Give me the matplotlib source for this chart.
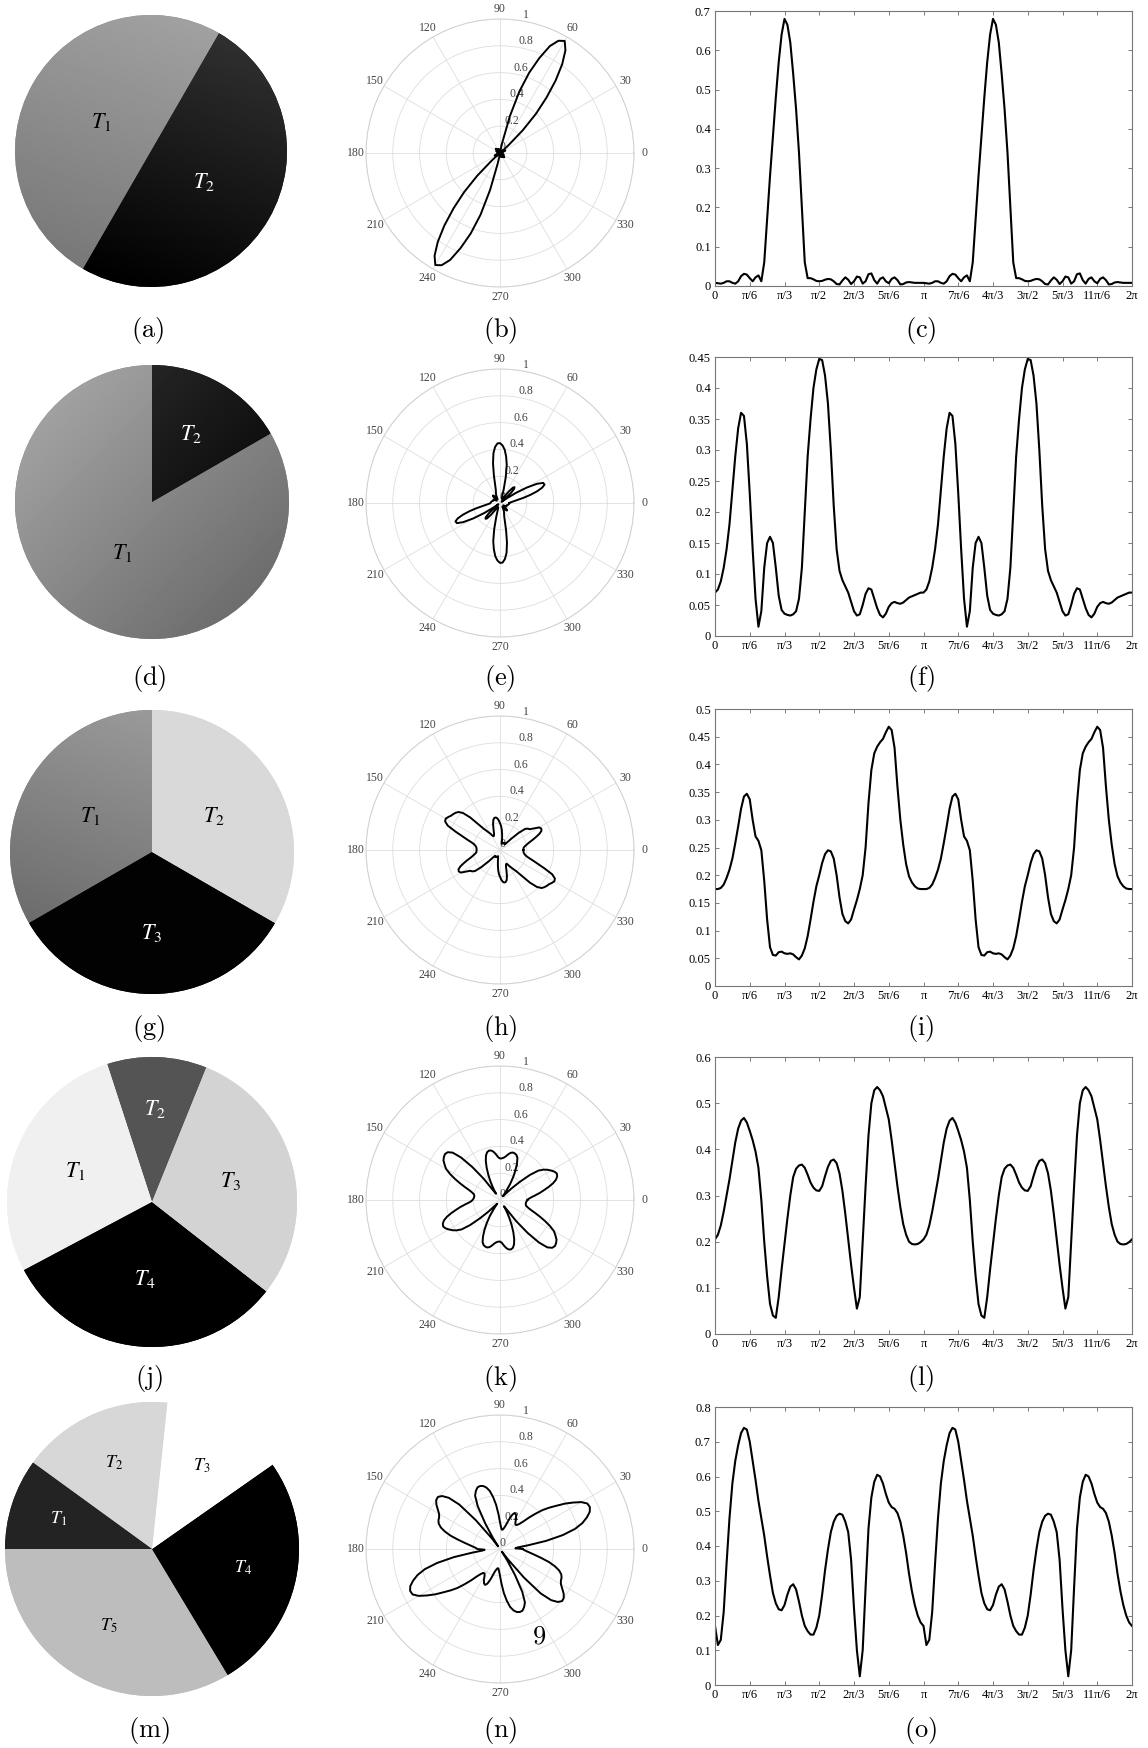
import numpy as np
import matplotlib.pyplot as plt
from matplotlib.ticker import MultipleLocator, FuncFormatter

plt.rcParams['font.family'] = ['Liberation Serif', 'DejaVu Serif']
plt.rcParams['mathtext.fontset'] = 'stix'

# ---------------- data ----------------
# pie shares (degrees), listed counter-clockwise from the start angle
pie_labels = [['1', '2'], ['1', '2'], ['1', '3', '2'],
              ['2', '1', '4', '3'], ['5', '4', '3', '2', '1']]
pie_sizes = [[180, 180], [300, 60], [120, 120, 120],
             [40, 100, 114, 106], [121, 94, 49, 60, 36]]
pie_start = [60, 90, 90, 68, 180]

# one half period (0 .. pi, step 2.5 deg); every curve repeats with period pi
step_deg = 2.5
c_half = [0.008, 0.007, 0.006, 0.008, 0.012, 0.012, 0.008, 0.006, 0.012, 0.025,
          0.031, 0.029, 0.02, 0.012, 0.022, 0.027, 0.012, 0.06, 0.17, 0.28,
          0.38, 0.48, 0.57, 0.64, 0.68, 0.665, 0.62, 0.54, 0.45, 0.34,
          0.2, 0.06, 0.02, 0.02, 0.017, 0.013, 0.012, 0.013, 0.016, 0.018,
          0.017, 0.012, 0.005, 0.004, 0.014, 0.022, 0.016, 0.005, 0.012, 0.024,
          0.022, 0.006, 0.012, 0.03, 0.032, 0.015, 0.006, 0.018, 0.022, 0.012,
          0.007, 0.018, 0.022, 0.015, 0.004, 0.005, 0.009, 0.01, 0.009, 0.008,
          0.008, 0.008]
f_half = [0.07, 0.075, 0.088, 0.11, 0.14, 0.18, 0.235, 0.29, 0.335, 0.36,
          0.355, 0.31, 0.23, 0.14, 0.06, 0.015, 0.04, 0.11, 0.15, 0.16,
          0.15, 0.11, 0.065, 0.042, 0.036, 0.034, 0.033, 0.035, 0.04, 0.06,
          0.11, 0.2, 0.29, 0.35, 0.4, 0.43, 0.447, 0.445, 0.42, 0.375,
          0.3, 0.21, 0.14, 0.105, 0.09, 0.08, 0.07, 0.055, 0.04, 0.033,
          0.035, 0.05, 0.068, 0.077, 0.075, 0.06, 0.045, 0.034, 0.03, 0.036,
          0.047, 0.053, 0.055, 0.053, 0.052, 0.054, 0.058, 0.062, 0.064, 0.066,
          0.068, 0.07]
i_half = [0.175, 0.175, 0.177, 0.183, 0.195, 0.21, 0.23, 0.258, 0.288, 0.32,
          0.342, 0.347, 0.337, 0.3, 0.27, 0.262, 0.245, 0.19, 0.12, 0.07,
          0.056, 0.055, 0.061, 0.062, 0.059, 0.058, 0.059, 0.057, 0.052, 0.048,
          0.055, 0.068, 0.09, 0.12, 0.152, 0.18, 0.2, 0.222, 0.238, 0.245,
          0.243, 0.23, 0.2, 0.16, 0.13, 0.117, 0.113, 0.12, 0.138, 0.155,
          0.175, 0.2, 0.25, 0.33, 0.39, 0.42, 0.432, 0.44, 0.446, 0.458,
          0.468, 0.462, 0.43, 0.36, 0.3, 0.255, 0.22, 0.198, 0.187, 0.18,
          0.176, 0.175]
l_half = [0.205, 0.215, 0.235, 0.265, 0.3, 0.335, 0.375, 0.415, 0.445, 0.462,
          0.468, 0.458, 0.44, 0.42, 0.395, 0.36, 0.29, 0.2, 0.125, 0.065,
          0.04, 0.035, 0.08, 0.14, 0.195, 0.25, 0.3, 0.34, 0.358, 0.365,
          0.367, 0.36, 0.345, 0.328, 0.317, 0.311, 0.31, 0.32, 0.342, 0.362,
          0.375, 0.378, 0.37, 0.348, 0.31, 0.26, 0.205, 0.15, 0.1, 0.055,
          0.08, 0.2, 0.32, 0.43, 0.5, 0.528, 0.535, 0.528, 0.515, 0.49,
          0.465, 0.42, 0.37, 0.32, 0.275, 0.238, 0.215, 0.2, 0.195, 0.194,
          0.195, 0.199]
o_half = [0.17, 0.115, 0.13, 0.21, 0.35, 0.48, 0.58, 0.645, 0.69, 0.725,
          0.74, 0.735, 0.7, 0.645, 0.59, 0.53, 0.48, 0.43, 0.37, 0.315,
          0.265, 0.235, 0.218, 0.215, 0.23, 0.26, 0.283, 0.29, 0.275, 0.24,
          0.2, 0.17, 0.155, 0.145, 0.145, 0.165, 0.2, 0.26, 0.33, 0.39,
          0.44, 0.47, 0.487, 0.493, 0.49, 0.47, 0.44, 0.36, 0.22, 0.1,
          0.025, 0.1, 0.28, 0.45, 0.54, 0.585, 0.605, 0.6, 0.58, 0.55,
          0.525, 0.512, 0.507, 0.495, 0.47, 0.43, 0.38, 0.32, 0.27, 0.23,
          0.2, 0.18]
b_scale = 1.42   # polar (b) lobe reaches ~0.97 while (c) peaks at 0.68

y_tops = [0.7, 0.45, 0.5, 0.6, 0.8]
y_steps = [0.1, 0.05, 0.05, 0.1, 0.1]
x_ticklabels = ['0', 'π/6', 'π/3', 'π/2', '2π/3', '5π/6', 'π', '7π/6',
                '4π/3', '3π/2', '5π/3', '11π/6', '2π']
sub_labels = [['a', 'b', 'c'], ['d', 'e', 'f'], ['g', 'h', 'i'],
              ['j', 'k', 'l'], ['m', 'n', 'o']]


def full_period(half):
    half = np.asarray(half)
    return np.concatenate([half, half, half[:1]])


theta = np.deg2rad(np.arange(0, 360 + step_deg / 2, step_deg))
curves = [full_period(h) for h in (c_half, f_half, i_half, l_half, o_half)]
polar_curves = [curves[0] * b_scale] + curves[1:]

# ---------------- styles ----------------
# (light grey, dark grey, angle of the light end) per wedge, same order as sizes
pie_shades = [
    [(0.63, 0.47, 70), (0.19, 0.0, 70)],
    [(0.63, 0.43, 135), (0.17, 0.0, 135)],
    [(0.61, 0.40, 70), (0.01, 0.01, 90), (0.85, 0.85, 90)],
    [(0.33, 0.33, 90), (0.94, 0.94, 90), (0.0, 0.0, 90), (0.83, 0.83, 90)],
    [(0.74, 0.74, 90), (0.0, 0.0, 90), (1.0, 1.0, 90), (0.84, 0.84, 90), (0.14, 0.14, 90)],
]
pie_label_r = [[0.42, 0.45], [0.43, 0.57], [0.5, 0.57, 0.5],
               [0.64, 0.57, 0.53, 0.56], [0.6, 0.63, 0.66, 0.64, 0.67]]
pie_label_fs = [16, 16, 16, 16, 13]
pie_centers = [(151, 151, 136), (152, 502, 137), (152, 852, 142),
               (152, 1202, 145), (152, 1549, 147)]
polar_cy = [153, 503, 850, 1200, 1549]
line_tops = [11, 357, 709, 1057, 1407]
line_bottoms = [286, 636, 986, 1334, 1685]
label_y = [331, 678, 1028, 1379, 1731]

W, H = 1148, 1748
fig = plt.figure(figsize=(W / 100, H / 100), dpi=100)


def px_axes(x0, y0, w, h, **kw):
    return fig.add_axes([x0 / W, 1 - (y0 + h) / H, w / W, h / H], **kw)


gx, gy = np.meshgrid(np.linspace(-1, 1, 200), np.linspace(-1, 1, 200))

for row in range(5):
    # ---- pie ----
    cx, cy, r = pie_centers[row]
    ax = px_axes(cx - r, cy - r, 2 * r, 2 * r)
    shades = pie_shades[row]
    wedges, _ = ax.pie(pie_sizes[row], startangle=pie_start[row],
                       colors=[str((s[0] + s[1]) / 2) for s in shades],
                       wedgeprops=dict(linewidth=0))
    for w, (c0, c1, ang) in zip(wedges, shades):
        a = np.deg2rad(ang)
        t = (1 - (gx * np.cos(a) + gy * np.sin(a))) / 2
        img = c0 + (c1 - c0) * t
        im = ax.imshow(img, extent=(-1, 1, -1, 1), origin='lower', cmap='gray',
                       vmin=0, vmax=1, interpolation='bilinear', zorder=2)
        im.set_clip_path(w)
    for w, lab, d, (c0, c1, _) in zip(wedges, pie_labels[row], pie_label_r[row], shades):
        mid = np.deg2rad((w.theta1 + w.theta2) / 2)
        col = 'white' if (c0 + c1) / 2 < 0.45 else 'black'
        ax.text(d * np.cos(mid), d * np.sin(mid), r'$T_{%s}$' % lab,
                ha='center', va='center', color=col, zorder=3,
                fontsize=pie_label_fs[row], math_fontfamily='stix')
    ax.set_xlim(-1, 1)
    ax.set_ylim(-1, 1)
    ax.set_aspect('equal')
    ax.axis('off')

    # ---- polar ----
    pr = 134
    pax = px_axes(500 - pr, polar_cy[row] - pr, 2 * pr, 2 * pr, projection='polar')
    pax.plot(theta, polar_curves[row], color='black', lw=1.4)
    pax.set_ylim(0, 1)
    pax.set_thetagrids(range(0, 360, 30), labels=[str(v) for v in range(0, 360, 30)])
    pax.set_rgrids([0, 0.2, 0.4, 0.6, 0.8, 1],
                   labels=['0', '0.2', '0.4', '0.6', '0.8', '1'], angle=80)
    pax.tick_params(axis='x', labelsize=8.5, labelcolor='#444', pad=-3)
    pax.tick_params(axis='y', labelsize=8.5, labelcolor='#444')
    pax.grid(color='#dedede', lw=0.6)
    pax.spines['polar'].set_color('#d0d0d0')
    pax.spines['polar'].set_linewidth(0.7)

    # ---- line ----
    lax = px_axes(715, line_tops[row], 1132 - 715, line_bottoms[row] - line_tops[row])
    lax.plot(theta, curves[row], color='black', lw=1.5)
    lax.set_xlim(0, 2 * np.pi)
    lax.set_ylim(0, y_tops[row])
    lax.set_xticks(np.arange(13) * np.pi / 6)
    lax.set_xticklabels(x_ticklabels)
    lax.yaxis.set_major_locator(MultipleLocator(y_steps[row]))
    lax.yaxis.set_major_formatter(FuncFormatter(lambda v, p: f'{v:g}'))
    lax.tick_params(direction='in', top=True, right=True, length=3, width=0.6,
                    color='#666', labelsize=9, pad=3)
    for sp in lax.spines.values():
        sp.set_color('#777')
        sp.set_linewidth(0.8)

    # ---- sub-figure labels ----
    for xc, lab in zip([cx - 3, 500, 921], sub_labels[row]):
        fig.text(xc / W, 1 - label_y[row] / H, r'$\mathrm{(%s)}$' % lab,
                 ha='center', va='center', fontsize=19, math_fontfamily='cm')

# stray glyph inside panel (n)
fig.text(539 / W, 1 - 1638 / H, r'$9$', ha='center', va='center',
         fontsize=19, math_fontfamily='cm')

fig.savefig('out.png', dpi=100)
